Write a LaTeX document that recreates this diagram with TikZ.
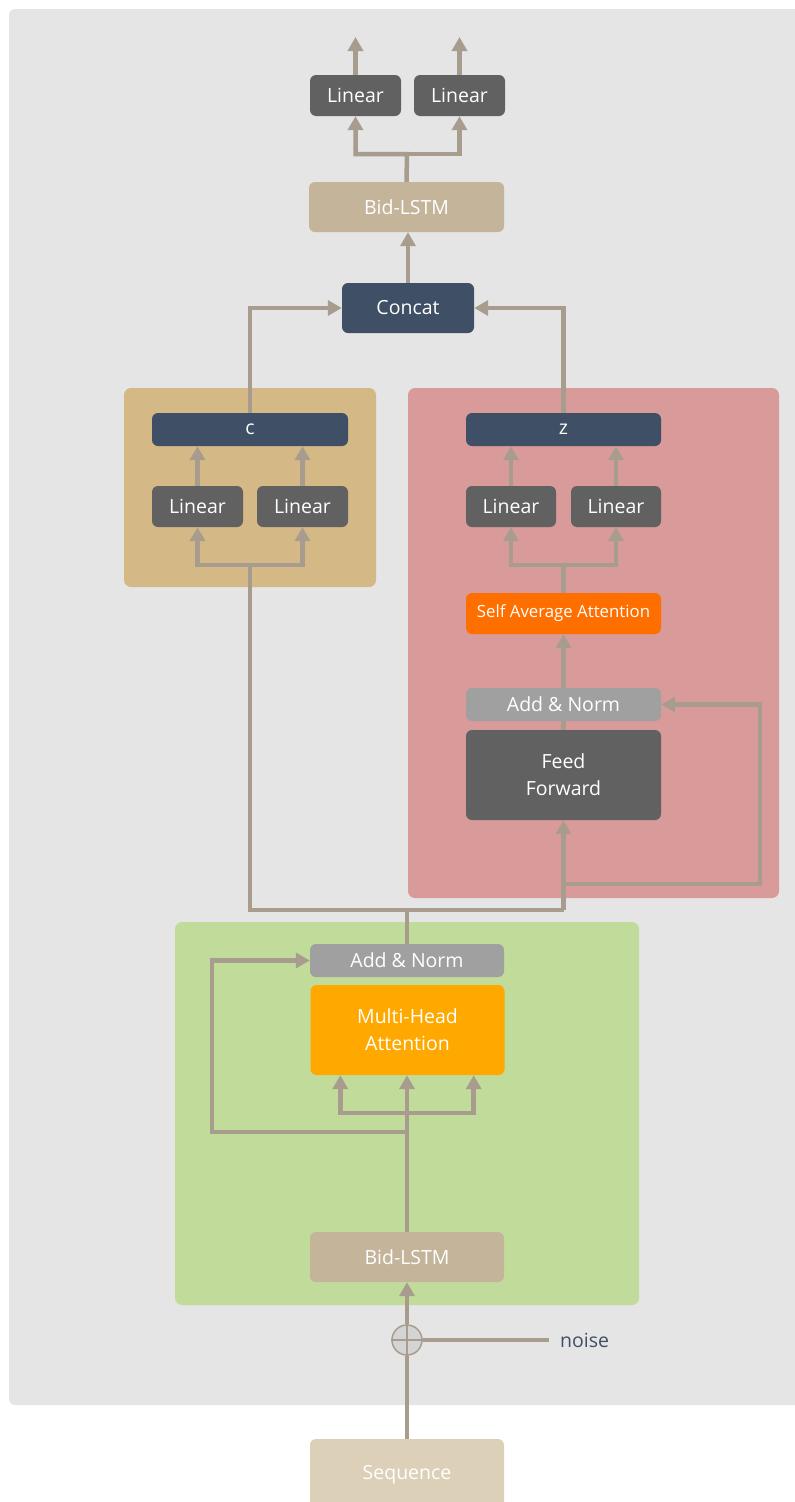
\documentclass[tikz,border=0pt]{standalone}
\usepackage{fontspec}
\setmainfont{Open Sans}
\usetikzlibrary{arrows.meta}

\definecolor{bgc}{HTML}{E5E5E5}
\definecolor{wirec}{HTML}{A89C8E}
\definecolor{navyc}{HTML}{3F4F66}
\definecolor{darkc}{HTML}{616161}
\definecolor{tanc}{HTML}{C4B49A}
\definecolor{seqc}{HTML}{DDD0B8}
\definecolor{normc}{HTML}{A0A0A0}
\definecolor{mhac}{HTML}{FFA800}
\definecolor{saac}{HTML}{FF6F00}
\definecolor{goldc}{HTML}{D4B886}
\definecolor{pinkc}{HTML}{D99A9A}
\definecolor{greenc}{HTML}{C1DB9A}
\definecolor{plusc}{HTML}{D4D4D4}

\tikzset{
  blk/.style={rounded corners=6pt, text=white, inner sep=0pt, align=center,
    font=\fontsize{19.5}{27}\selectfont},
  panel/.style={rounded corners=7pt},
  wire/.style={draw=wirec, line width=4.5pt},
  arr/.style={wire, -{Triangle[length=14pt,width=15pt]}},
}

\begin{document}
\begin{tikzpicture}[x=1pt, y=-1pt]
\useasboundingbox (0,0) rectangle (795,1502);
\clip (0,0) rectangle (795,1502);

% background sheet
\fill[bgc, rounded corners=6pt] (9,9) rectangle (810,1405);

% group panels
\fill[goldc, panel] (124,388) rectangle (376,587);
\fill[pinkc, panel] (408,388) rectangle (779,898);
\fill[greenc, panel] (175,922) rectangle (639,1305);

% output head
\node[blk, fill=darkc, minimum width=91pt, minimum height=41pt] (lin1) at (355.5,95.5) {Linear};
\node[blk, fill=darkc, minimum width=91pt, minimum height=41pt] (lin2) at (459.5,95.5) {Linear};
\node[blk, fill=tanc, minimum width=195pt, minimum height=50pt] (bid2) at (406.5,207) {Bid-LSTM};
\node[blk, fill=navyc, minimum width=132pt, minimum height=50pt] (concat) at (408,308) {Concat};

% c branch
\node[blk, fill=navyc, minimum width=196pt, minimum height=33pt] (cbox) at (250,429.5) {c};
\node[blk, fill=darkc, minimum width=91pt, minimum height=41pt] (lc1) at (197.5,506.5) {Linear};
\node[blk, fill=darkc, minimum width=91pt, minimum height=41pt] (lc2) at (302.5,506.5) {Linear};

% z branch
\node[blk, fill=navyc, minimum width=195pt, minimum height=33pt] (zbox) at (563.5,429.5) {z};
\node[blk, fill=darkc, minimum width=90pt, minimum height=41pt] (lz1) at (511,506.5) {Linear};
\node[blk, fill=darkc, minimum width=90pt, minimum height=41pt] (lz2) at (616,506.5) {Linear};
\node[blk, fill=saac, minimum width=195pt, minimum height=41pt, font=\fontsize{16.8}{20}\selectfont] (saa) at (563.5,613.5) {Self Average Attention};
\node[blk, fill=normc, minimum width=195pt, minimum height=33pt] (an2) at (563.5,704.5) {Add \& Norm};
\node[blk, fill=darkc, minimum width=195pt, minimum height=90pt] (ff) at (563.5,775) {Feed\\Forward};

% encoder
\node[blk, fill=normc, minimum width=194pt, minimum height=33pt] (an1) at (407,960.5) {Add \& Norm};
\node[blk, fill=mhac, minimum width=194pt, minimum height=90pt] (mha) at (407.5,1030) {Multi-Head\\Attention};
\node[blk, fill=tanc, minimum width=194pt, minimum height=50pt] (bid1) at (407,1257) {Bid-LSTM};

% input
\node[circle, draw=wirec, fill=plusc, line width=1.5pt, minimum size=30pt, inner sep=0pt] (plus) at (407,1340) {};
\node[anchor=west, inner sep=0pt, text=navyc, font=\fontsize{19.5}{23}\selectfont] (noise) at (560,1340) {noise};
\node[blk, fill=seqc, minimum width=194pt, minimum height=72pt] (seq) at (407,1475) {Sequence};

% junction points
\coordinate (o1) at (355.5,37);
\coordinate (o2) at (459.5,37);
\coordinate (f1) at (407,154);
\coordinate (fc) at (250,565);
\coordinate (fz) at (563.5,565);
\coordinate (jl) at (250,910);
\coordinate (jm) at (407,910);
\coordinate (jr) at (563.5,910);
\coordinate (rr) at (563.5,884);
\coordinate (rc) at (760,704.5);
\coordinate (fm) at (407,1113);
\coordinate (fres) at (407,1132);
\coordinate (rl) at (212,960.5);

% output head wiring
\draw[arr] (lin1.north) -- (o1);
\draw[arr] (lin2.north) -- (o2);
\draw[arr] (bid2.north) -- (f1) -| (lin1.south);
\draw[arr] (f1) -| (lin2.south);
\draw[arr] (concat.north) -- (concat.north |- bid2.south);
\draw[arr] (cbox.north) |- (concat.west);
\draw[arr] (zbox.north) |- (concat.east);

% c branch wiring
\draw[arr] (lc1.north) -- (lc1.north |- cbox.south);
\draw[arr] (lc2.north) -- (lc2.north |- cbox.south);
\draw[arr] (fc) -| (lc1.south);
\draw[arr] (fc) -| (lc2.south);

% z branch wiring
\draw[arr] (lz1.north) -- (lz1.north |- zbox.south);
\draw[arr] (lz2.north) -- (lz2.north |- zbox.south);
\draw[wire] (saa.north) -- (fz);
\draw[arr] (fz) -| (lz1.south);
\draw[arr] (fz) -| (lz2.south);
\draw[arr] (an2.north) -- (saa.south);
\draw[wire] (ff.north) -- (an2.south);
\draw[arr] (jr) -- (ff.south);
\draw[arr] (rr) -| (rc) -- (an2.east);

% trunk split
\draw[wire] (an1.north) -- (jm);
\draw[wire] (fc) -- (jl) -- (jr);

% encoder wiring
\draw[arr] (bid1.north) -- (bid1.north |- mha.south);
\draw[arr] (fm) -| ([xshift=30pt]mha.south west);
\draw[arr] (fm) -| ([xshift=-31pt]mha.south east);
\draw[arr] (fres) -| (rl) -- (an1.west);

% noise injection
\draw[wirec, line width=1.2pt] (plus.north) -- (plus.south) (plus.west) -- (plus.east);
\draw[arr] (plus.north) -- (bid1.south);
\draw[wire] (seq.north) -- (plus.south);
\draw[wire, shorten >=11pt] (plus.east) -- (noise.west);
\end{tikzpicture}
\end{document}
